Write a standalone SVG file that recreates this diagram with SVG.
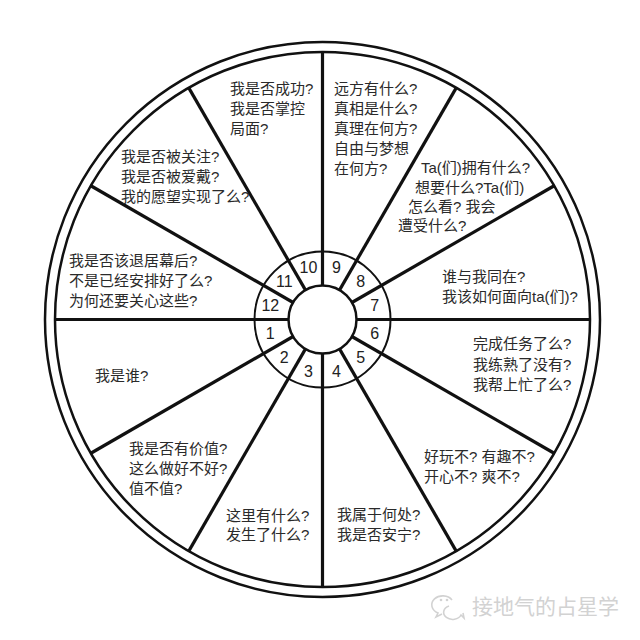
<svg xmlns="http://www.w3.org/2000/svg" width="640" height="640" viewBox="0 0 640 640">
<style>
.ring{fill:none;stroke:#111;stroke-width:2.5}
.spoke{stroke:#111;stroke-width:3.2;stroke-linecap:butt}
.num{font-family:"Liberation Sans","Noto Sans CJK SC",sans-serif;font-size:16px;fill:#222;text-anchor:middle}
.q{font-family:"Liberation Sans","Noto Sans CJK SC",sans-serif;font-size:15px;fill:#2a2a2a}
.wm{font-family:"Noto Sans CJK SC",sans-serif;font-size:21px;fill:#d2d2d2}
</style>
<rect width="640" height="640" fill="#fff"/>
<g id="wheel">
<circle class="ring" cx="322.5" cy="319.5" r="277.5"/>
<circle class="ring" cx="322.5" cy="319.5" r="267.5"/>
<circle class="ring" cx="322.5" cy="319.5" r="68" style="stroke-width:2"/>
<circle class="ring" cx="322.5" cy="319.5" r="34" style="stroke-width:2.5"/>
</g>
<g id="connectors">
<line class="spoke" x1="356.5" y1="319.5" x2="590.5" y2="319.5"/>
<line class="spoke" x1="351.9" y1="302.5" x2="554.6" y2="185.5"/>
<line class="spoke" x1="339.5" y1="290.1" x2="456.5" y2="87.4"/>
<line class="spoke" x1="322.5" y1="285.5" x2="322.5" y2="51.5"/>
<line class="spoke" x1="305.5" y1="290.1" x2="188.5" y2="87.4"/>
<line class="spoke" x1="293.1" y1="302.5" x2="90.4" y2="185.5"/>
<line class="spoke" x1="288.5" y1="319.5" x2="54.5" y2="319.5"/>
<line class="spoke" x1="293.1" y1="336.5" x2="90.4" y2="453.5"/>
<line class="spoke" x1="305.5" y1="348.9" x2="188.5" y2="551.6"/>
<line class="spoke" x1="322.5" y1="353.5" x2="322.5" y2="587.5"/>
<line class="spoke" x1="339.5" y1="348.9" x2="456.5" y2="551.6"/>
<line class="spoke" x1="351.9" y1="336.5" x2="554.6" y2="453.5"/>
</g>
<g id="house1"><text class="num" x="270.3" y="339.2">1</text><text class="q" x="95" y="380.5">我是谁?</text></g>
<g id="house2"><text class="num" x="284.3" y="363.4">2</text><text class="q" x="129"><tspan x="129" y="454">我是否有价值?</tspan><tspan x="129" y="474">这么做好不好?</tspan><tspan x="129" y="494">值不值?</tspan></text></g>
<g id="house3"><text class="num" x="308.5" y="377.4">3</text><text class="q"><tspan x="226" y="520.5">这里有什么?</tspan><tspan x="226" y="540">发生了什么?</tspan></text></g>
<g id="house4"><text class="num" x="336.5" y="377.4">4</text><text class="q"><tspan x="337" y="520">我属于何处?</tspan><tspan x="337" y="540">我是否安宁?</tspan></text></g>
<g id="house5"><text class="num" x="360.7" y="363.4">5</text><text class="q"><tspan x="424" y="461.5">好玩不? 有趣不?</tspan><tspan x="424" y="481.5">开心不? 爽不?</tspan></text></g>
<g id="house6"><text class="num" x="374.7" y="339.2">6</text><text class="q"><tspan x="473" y="349">完成任务了么?</tspan><tspan x="473" y="369.5">我练熟了没有?</tspan><tspan x="473" y="390">我帮上忙了么?</tspan></text></g>
<g id="house7"><text class="num" x="374.7" y="311.2">7</text><text class="q"><tspan x="442" y="282">谁与我同在?</tspan><tspan x="442" y="302">我该如何面向ta(们)?</tspan></text></g>
<g id="house8"><text class="num" x="360.7" y="287">8</text><text class="q"><tspan x="421" y="173">Ta(们)拥有什么?</tspan><tspan x="415" y="193">想要什么?Ta(们)</tspan><tspan x="408" y="212">怎么看? 我会</tspan><tspan x="398" y="231">遭受什么?</tspan></text></g>
<g id="house9"><text class="num" x="336.5" y="273">9</text><text class="q"><tspan x="334" y="94">远方有什么?</tspan><tspan x="334" y="114">真相是什么?</tspan><tspan x="334" y="134">真理在何方?</tspan><tspan x="334" y="154">自由与梦想</tspan><tspan x="334" y="174">在何方?</tspan></text></g>
<g id="house10"><text class="num" x="308.5" y="273">10</text><text class="q"><tspan x="230" y="94">我是否成功?</tspan><tspan x="230" y="114">我是否掌控</tspan><tspan x="230" y="134">局面?</tspan></text></g>
<g id="house11"><text class="num" x="284.3" y="287">11</text><text class="q"><tspan x="121" y="161.5">我是否被关注?</tspan><tspan x="121" y="181.5">我是否被爱戴?</tspan><tspan x="121" y="201.5">我的愿望实现了么?</tspan></text></g>
<g id="house12"><text class="num" x="270.3" y="311.2">12</text><text class="q"><tspan x="69" y="266">我是否该退居幕后?</tspan><tspan x="69" y="286">不是已经安排好了么?</tspan><tspan x="69" y="306">为何还要关心这些?</tspan></text></g>
<g id="watermark">
<path d="M452 600 a11 9 0 1 0 -14 13 l-2 4 l6 -3" fill="none" stroke="#d2d2d2" stroke-width="1.6"/>
<path d="M449 606 a9 7 0 1 0 12 9 l3 3 l-1 -5" fill="none" stroke="#d2d2d2" stroke-width="1.6"/>
<circle cx="441" cy="600" r="1.3" fill="#d2d2d2"/>
<circle cx="447" cy="600" r="1.3" fill="#d2d2d2"/>
<text class="wm" x="472" y="613.5">接地气的占星学</text>
</g>
</svg>
